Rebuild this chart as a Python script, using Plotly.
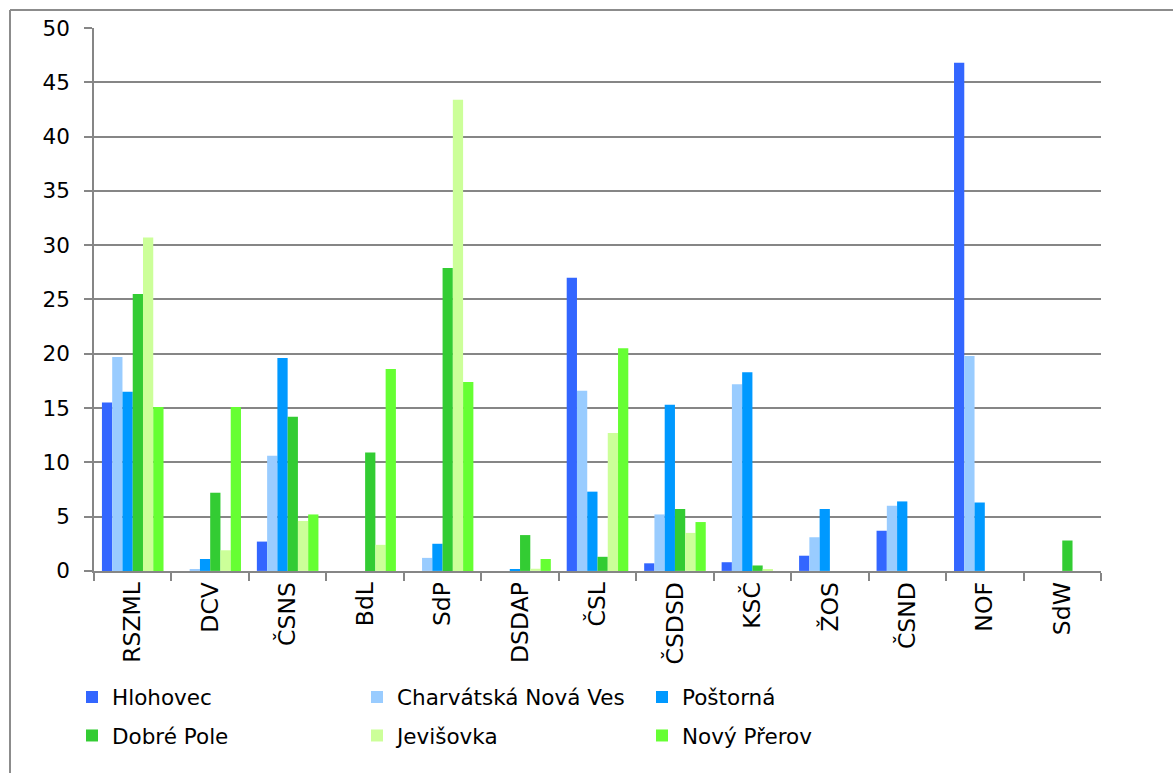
import plotly.graph_objects as go

categories = ["RSZML", "DCV", "ČSNS", "BdL", "SdP", "DSDAP", "ČSL", "ČSDSD", "KSČ", "ŽOS", "ČSND", "NOF", "SdW"]
series_names = ["Hlohovec", "Charvátská Nová Ves", "Poštorná", "Dobré Pole", "Jevišovka", "Nový Přerov"]
hlohovec = [15.5, 0, 2.7, 0, 0, 0, 27.0, 0.7, 0.8, 1.4, 3.7, 46.8, 0]
charvatska = [19.7, 0.1, 10.6, 0, 1.2, 0, 16.6, 5.2, 17.2, 3.1, 6.0, 19.8, 0]
postorna = [16.5, 1.1, 19.6, 0, 2.5, 0.1, 7.3, 15.3, 18.3, 5.7, 6.4, 6.3, 0]
dobre_pole = [25.5, 7.2, 14.2, 10.9, 27.9, 3.3, 1.3, 5.7, 0.5, 0, 0, 0, 2.8]
jevisovka = [30.7, 1.9, 4.6, 2.4, 43.4, 0.2, 12.7, 3.5, 0.1, 0, 0, 0, 0]
novy_prerov = [15.1, 15.1, 5.2, 18.6, 17.4, 1.1, 20.5, 4.5, 0, 0, 0, 0, 0]
colors = ["#3366FF", "#99CCFF", "#0099FF", "#33CC33", "#CCFF99", "#66FF33"]
y_ticks = [0, 5, 10, 15, 20, 25, 30, 35, 40, 45, 50]

W, H = 1173, 773
ML, MR, MT, MB = 94, 72, 28, 201
PW, PH = W - ML - MR, H - MT - MB

def px_x(p):
    return (p - ML) / PW

def px_y(p):
    return (H - MB - p) / PH

fig = go.Figure()
all_series = [hlohovec, charvatska, postorna, dobre_pole, jevisovka, novy_prerov]
for i, (name, vals) in enumerate(zip(series_names, all_series)):
    fig.add_trace(go.Bar(
        x=categories, y=vals, name=name,
        marker=dict(color=colors[i], line=dict(width=0)),
        legend="legend" if i < 3 else "legend2",
    ))

font = "DejaVu Sans"
legend_common = dict(
    orientation="h", xref="container", yref="container",
    x=72 / W, xanchor="left", yanchor="middle",
    entrywidth=240, entrywidthmode="pixels",
    font=dict(family=font, size=21.5, color="#000000"),
    bgcolor="rgba(0,0,0,0)", traceorder="normal",
)

fig.update_layout(
    width=W, height=H,
    margin=dict(l=ML, r=MR, t=MT, b=MB, pad=0),
    paper_bgcolor="white", plot_bgcolor="white",
    barmode="group", bargap=0.205, bargroupgap=0,
    font=dict(family=font, size=21, color="#000000"),
    showlegend=True,
    legend=dict(legend_common, y=1 - 697 / H),
    legend2=dict(legend_common, y=1 - 735.5 / H),
    xaxis=dict(
        type="category", showline=True, linecolor="#868686", linewidth=1.5,
        ticks="outside", tickson="boundaries", ticklen=8, tickcolor="#868686",
        tickwidth=1.5, tickangle=-90, showgrid=False,
        tickfont=dict(family=font, size=23.5, color="#000000"),
    ),
    yaxis=dict(
        range=[0, 50], tickvals=y_ticks, showline=True, linecolor="#868686",
        linewidth=1.5, ticks="outside", ticklen=8, tickcolor="#868686",
        tickwidth=1.5, showgrid=True, gridcolor="#868686", gridwidth=1.5,
        zeroline=False, ticklabelstandoff=10,
        tickfont=dict(family=font, size=21.5, color="#000000"),
    ),
    shapes=[
        dict(type="line", xref="paper", yref="paper",
             x0=px_x(10), x1=px_x(10), y0=px_y(10), y1=px_y(H + 20),
             line=dict(color="#8c8c8c", width=2)),
        dict(type="line", xref="paper", yref="paper",
             x0=px_x(10), x1=px_x(W + 20), y0=px_y(10), y1=px_y(10),
             line=dict(color="#8c8c8c", width=2)),
    ],
)

fig.write_html(
    "out.html",
    config={"displayModeBar": False},
    post_script="document.body.style.margin='0';document.body.style.overflow='hidden';",
)
